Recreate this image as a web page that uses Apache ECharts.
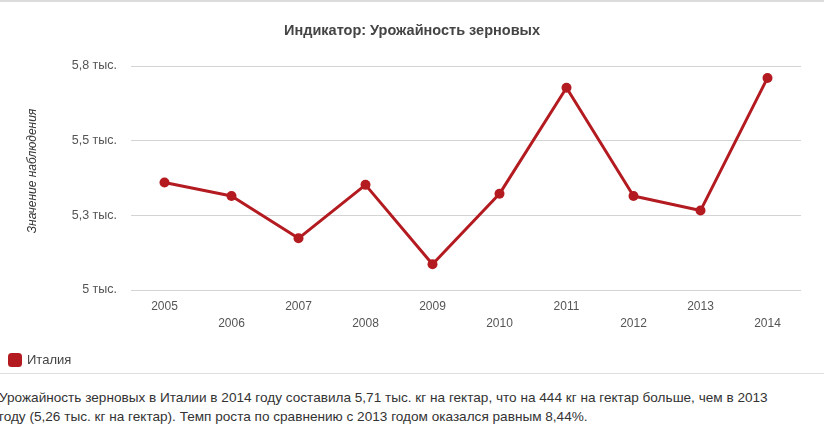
<!DOCTYPE html>
<html lang="ru">
<head>
    <meta charset="utf-8" />
    <title>Урожайность зерновых</title>
    <script src="https://cdn.jsdelivr.net/npm/echarts@6/dist/echarts.min.js"></script>
    <style>
        body { margin: 0; background: #fff; width: 824px; height: 428px; overflow: hidden; }
        #main { width: 824px; height: 374px; border-top: 2px solid #dcdcdc; box-sizing: border-box; border-bottom: 1px solid #dedede; }
        #note { font-family: "Liberation Sans", Arial, sans-serif; font-size: 13.6px; color: #333; line-height: 19px; padding-top: 14px; white-space: nowrap; margin-left: -1px; }
    </style>
</head>
<body>
    <div id="main"></div>
    <div id="note">Урожайность зерновых в Италии в 2014 году составила 5,71 тыс. кг на гектар, что на 444 кг на гектар больше, чем в 2013<br>году (5,26 тыс. кг на гектар). Темп роста по сравнению с 2013 годом оказался равным 8,44%.</div>
    <script>
        var years = ['2005', '2006', '2007', '2008', '2009', '2010', '2011', '2012', '2013', '2014'];
        var italy = [5360, 5315, 5173, 5352, 5086, 5322, 5677, 5315, 5266, 5710];
        var yTickLabels = ['5 тыс.', '5,3 тыс.', '5,5 тыс.', '5,8 тыс.'];

        var red = '#b31b20';
        var myChart = echarts.init(document.getElementById('main'));

        var option = {
            animation: false,
            textStyle: { fontFamily: '"Liberation Sans", Arial, sans-serif' },
            title: {
                text: 'Индикатор: Урожайность зерновых',
                left: 'center',
                top: 16,
                textStyle: { fontSize: 14.5, fontWeight: 'bold', color: '#444' }
            },
            legend: {
                data: ['Италия'],
                left: 3,
                top: 346,
                icon: 'roundRect',
                itemWidth: 14,
                itemHeight: 14,
                itemGap: 7,
                textStyle: { fontSize: 13, color: '#444' }
            },
            grid: { left: 131, right: 23, top: 64, bottom: 83 },
            xAxis: {
                type: 'category',
                data: years,
                axisLine: { show: false },
                axisTick: { show: false },
                axisLabel: {
                    interval: 0,
                    margin: 8,
                    fontSize: 12,
                    color: '#555',
                    lineHeight: 17,
                    formatter: function (v, i) { return i % 2 ? '\n' + v : v; }
                }
            },
            yAxis: {
                type: 'value',
                min: 5000,
                max: 5750,
                interval: 250,
                name: 'Значение наблюдения',
                nameLocation: 'middle',
                nameGap: 92,
                nameTextStyle: { fontStyle: 'italic', fontSize: 12, color: '#333', padding: [0, 0, 0, 14] },
                axisLabel: {
                    margin: 14,
                    fontSize: 12.5,
                    color: '#555',
                    formatter: function (v) { return yTickLabels[Math.round((v - 5000) / 250)]; }
                },
                splitLine: { lineStyle: { color: '#d4d4d4' } }
            },
            series: [{
                name: 'Италия',
                type: 'line',
                data: italy,
                symbol: 'circle',
                symbolSize: 10,
                lineStyle: { color: red, width: 3 },
                itemStyle: { color: red }
            }]
        };

        myChart.setOption(option);
    </script>
</body>
</html>
